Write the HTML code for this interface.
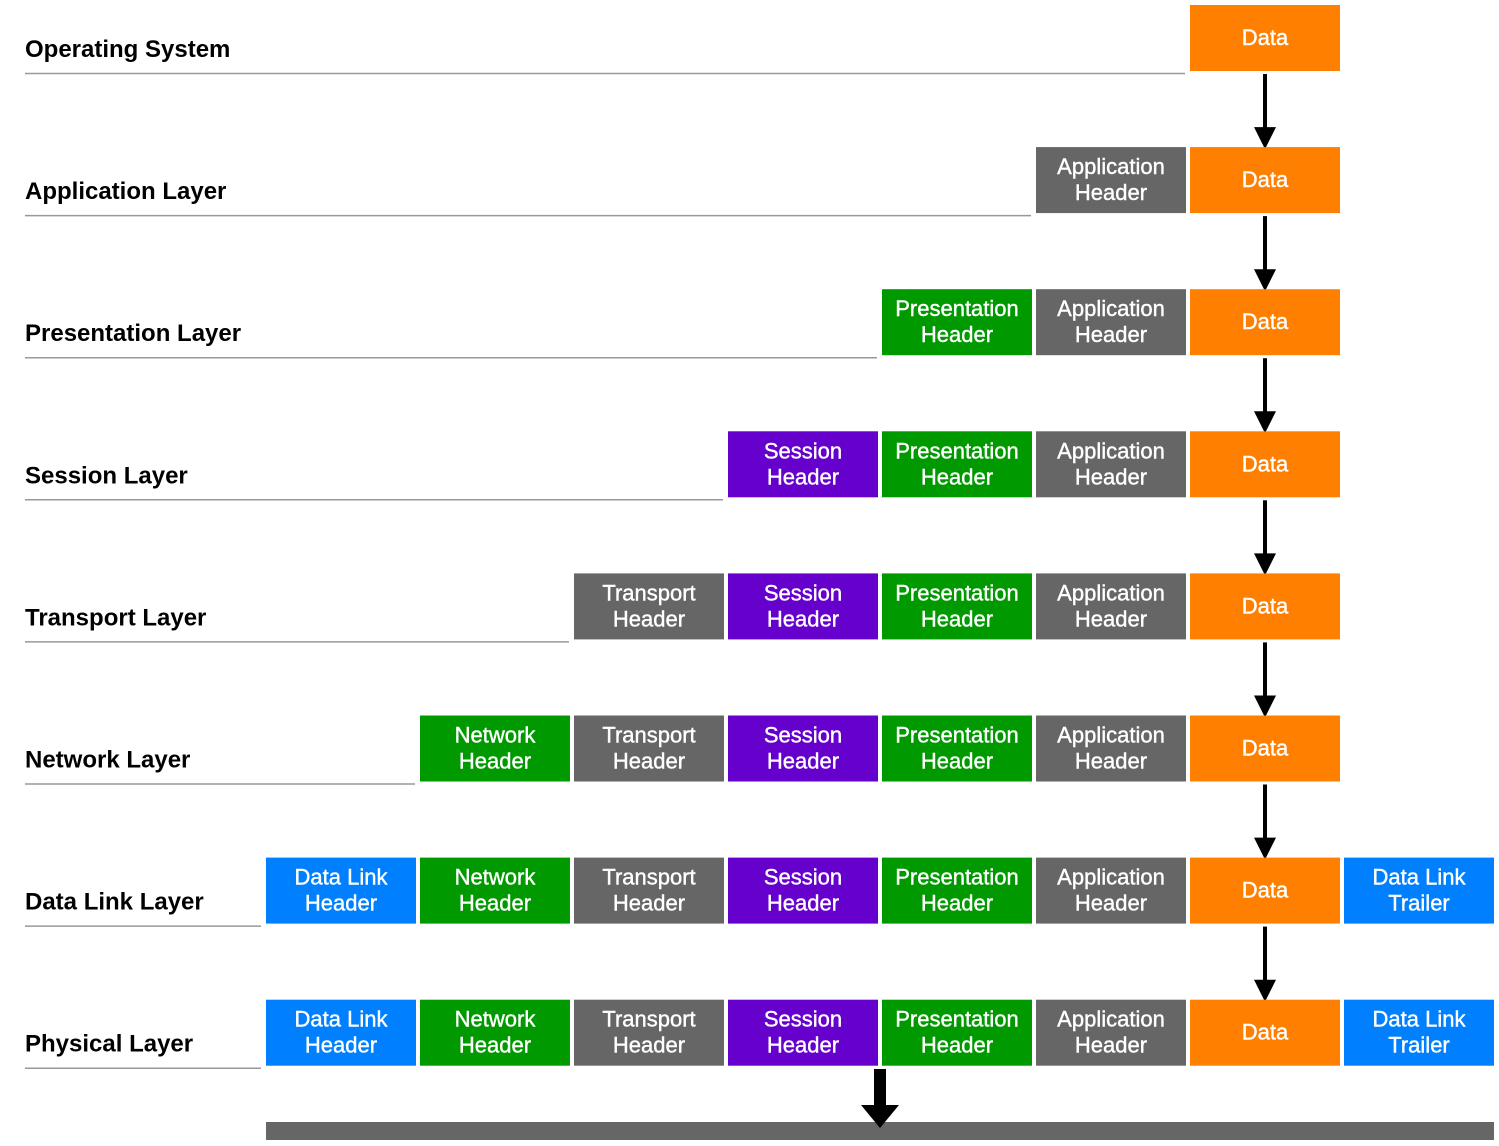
<!DOCTYPE html>
<html><head><meta charset="utf-8"><style>
body{margin:0;background:#fff;width:1499px;height:1146px;overflow:hidden}
svg{display:block}
.lbl{font-family:"Liberation Sans",sans-serif;font-weight:bold;font-size:24px;fill:#000}
.bt{font-family:"Liberation Sans",sans-serif;font-size:22px;fill:#fff;stroke:#fff;stroke-width:0.4;text-anchor:middle}
</style></head><body>
<svg id="d" width="1499" height="1146" xmlns="http://www.w3.org/2000/svg"></svg>
<script>
const layers=["Operating System","Application Layer","Presentation Layer","Session Layer","Transport Layer","Network Layer","Data Link Layer","Physical Layer"];
const cols=[{n:"Data Link\nHeader",c:"#0080FF"},{n:"Network\nHeader",c:"#009900"},{n:"Transport\nHeader",c:"#666666"},{n:"Session\nHeader",c:"#6600CC"},{n:"Presentation\nHeader",c:"#009900"},{n:"Application\nHeader",c:"#666666"},{n:"Data",c:"#FF8000"},{n:"Data Link\nTrailer",c:"#0080FF"}];
const firstCol=[6,5,4,3,2,1,0,0];
const hasTrailer=[0,0,0,0,0,0,1,1];
const NS="http://www.w3.org/2000/svg";
const svg=document.getElementById('d');
function mk(t,a){const e=document.createElementNS(NS,t);for(const k in a)e.setAttribute(k,a[k]);svg.appendChild(e);return e;}
const colX=i=>266+i*154, rowY=r=>5+r*142.1;
layers.forEach((L,r)=>{
  const y=rowY(r);
  const t=mk('text',{x:25,y:y+52,class:'lbl'});t.textContent=L;
  
  
  const ln=mk('line',{x1:25,x2:colX(firstCol[r])-5,y1:y+68.5,y2:y+68.5,stroke:'#999',"stroke-width":1.5});
  
  
  const last=hasTrailer[r]?7:6;
  for(let c=firstCol[r];c<=last;c++){
    const x=colX(c);
    const g=document.createElementNS(NS,'g');svg.appendChild(g);
    
    
    const rc=document.createElementNS(NS,'rect');
    rc.setAttribute('x',x);rc.setAttribute('y',y);rc.setAttribute('width',150);rc.setAttribute('height',66);rc.setAttribute('fill',cols[c].c);
    g.appendChild(rc);
    const lines=cols[c].n.split("\n");
    lines.forEach((s,i)=>{
      const tx=document.createElementNS(NS,'text');
      tx.setAttribute('x',x+75);
      tx.setAttribute('y',lines.length==1?y+40:y+27+i*26);
      tx.setAttribute('class','bt');tx.textContent=s;g.appendChild(tx);
    });
  }
  if(r<layers.length-1){
    const ax=1265, y0=y+69, y1=rowY(r+1)+2;
    const a=mk('line',{x1:ax,x2:ax,y1:y0,y2:y1-18,stroke:'#000',"stroke-width":4});
    
    
    const h=mk('polygon',{points:`${ax-11},${y1-22} ${ax+11},${y1-22} ${ax},${y1}`,fill:'#000'});
    
    
  }
});
const bar=mk('rect',{x:266,y:1122,width:1228,height:18,fill:'#666'});


const big=mk('polygon',{points:"874,1069 886,1069 886,1105 899,1105 880,1128 861,1105 874,1105",fill:'#000'});


</script>
</body></html>
